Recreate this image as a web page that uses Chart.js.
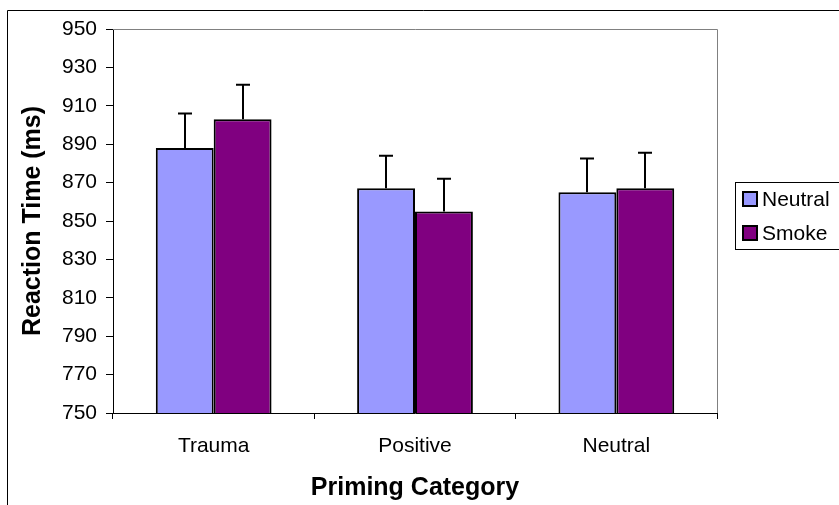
<!DOCTYPE html>
<html>
<head>
<meta charset="utf-8">
<script src="https://cdn.jsdelivr.net/npm/chart.js@4.4.0/dist/chart.umd.min.js"></script>
<style>
  html, body { margin: 0; padding: 0; background: #fff; }
  #wrap { width: 839px; height: 505px; }
</style>
</head>
<body>
<div id="wrap"><canvas id="rtChart" width="839" height="505"></canvas></div>
<script>
// data
const categories = ['Trauma', 'Positive', 'Neutral'];
const seriesNames = ['Neutral', 'Smoke'];
const neutralMeans = [888, 867, 865];
const smokeMeans = [903, 855, 867];
const neutralErr = [18, 17, 17.5];
const smokeErr = [18, 17, 18.5];
const yTicks = [750, 770, 790, 810, 830, 850, 870, 890, 910, 930, 950];

const FONT = '"Liberation Sans", Arial, sans-serif';
const colors = ['#9999FF', '#800080'];
const errors = [neutralErr, smokeErr];

// error bars (upper only) + frame + legend box
const extras = {
    id: 'extras',
    afterDatasetsDraw(chart) {
        const ctx = chart.ctx;
        const y = chart.scales.y;
        ctx.save();
        ctx.strokeStyle = '#000';
        ctx.lineWidth = 2;
        chart.data.datasets.forEach((ds, i) => {
            const meta = chart.getDatasetMeta(i);
            meta.data.forEach((bar, j) => {
                const top = y.getPixelForValue(ds.data[j] + errors[i][j]);
                const x = Math.round(bar.x);
                ctx.beginPath();
                ctx.moveTo(x, bar.y);
                ctx.lineTo(x, top);
                ctx.moveTo(x - 7, top);
                ctx.lineTo(x + 7, top);
                ctx.stroke();
            });
        });
        ctx.restore();
    },
    afterDraw(chart) {
        const ctx = chart.ctx;
        const a = chart.chartArea;
        ctx.save();
        // gray top/right of plot area
        ctx.strokeStyle = '#808080';
        ctx.lineWidth = 1;
        ctx.beginPath();
        ctx.moveTo(a.left, a.top + 0.5);
        ctx.lineTo(a.right + 0.5, a.top + 0.5);
        ctx.lineTo(a.right + 0.5, a.bottom);
        ctx.stroke();
        // outer chart frame
        ctx.strokeStyle = '#000';
        ctx.beginPath();
        ctx.moveTo(7.5, 505);
        ctx.lineTo(7.5, 10.5);
        ctx.lineTo(839, 10.5);
        ctx.stroke();
        // legend
        const lx = 735, ly = 182, lh = 67;
        ctx.strokeRect(lx + 0.5, ly + 0.5, 120, lh);
        ctx.font = '21px ' + FONT;
        ctx.textBaseline = 'middle';
        seriesNames.forEach((name, i) => {
            const cy = ly + 17 + i * 34;
            ctx.fillStyle = colors[i];
            ctx.fillRect(lx + 8, cy - 7, 14, 14);
            ctx.lineWidth = 2;
            ctx.strokeRect(lx + 8, cy - 7, 14, 14);
            ctx.fillStyle = '#000';
            ctx.fillText(name, lx + 27, cy + 1);
        });
        ctx.restore();
    }
};

new Chart(document.getElementById('rtChart'), {
    type: 'bar',
    data: {
        labels: categories,
        datasets: [
            { label: seriesNames[0], data: neutralMeans, backgroundColor: colors[0], borderColor: '#000', borderWidth: 2 },
            { label: seriesNames[1], data: smokeMeans, backgroundColor: colors[1], borderColor: '#000', borderWidth: 2 }
        ]
    },
    options: {
        responsive: false,
        animation: false,
        devicePixelRatio: 1,
        categoryPercentage: 0.575,
        barPercentage: 1.0,
        layout: { padding: { left: 0, top: 29, right: 122, bottom: 0 } },
        plugins: {
            legend: { display: false },
            tooltip: { enabled: false }
        },
        scales: {
            x: {
                grid: { offset: true, drawOnChartArea: false, drawTicks: true, tickLength: 6, tickColor: '#000' },
                border: { color: '#000', width: 1 },
                ticks: { color: '#000', font: { family: FONT, size: 21 }, padding: 15 },
                title: { display: true, text: 'Priming Category', color: '#000', font: { family: FONT, size: 25, weight: 'bold' }, padding: { top: 0, bottom: 2 } },
                afterFit(scale) { scale.height = 92; }
            },
            y: {
                min: 750,
                max: 950,
                afterBuildTicks(scale) { scale.ticks = yTicks.map(v => ({ value: v })); },
                grid: { drawOnChartArea: false, drawTicks: true, tickLength: 7, tickColor: '#000' },
                border: { color: '#000', width: 1 },
                ticks: { color: '#000', font: { family: FONT, size: 21 }, padding: 9 },
                title: { display: true, text: 'Reaction Time (ms)', color: '#000', font: { family: FONT, size: 25, weight: 'bold' }, padding: { top: 18, bottom: 0 } },
                afterFit(scale) { scale.width = 113; }
            }
        }
    },
    plugins: [extras]
});
</script>
</body>
</html>
